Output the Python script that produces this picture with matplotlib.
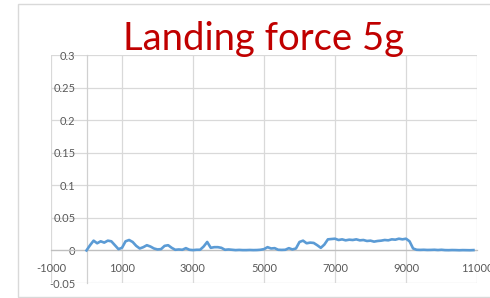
import matplotlib
matplotlib.use("Agg")
import matplotlib.pyplot as plt
from matplotlib.patches import Rectangle
import numpy as np

# ---- data ----
x_vals = list(range(0, 11000, 100))
y_milli = [
    0, 8, 15, 11, 14, 12, 15, 14, 8, 2,
    4, 14, 16, 13, 7, 3, 5, 8, 6, 3,
    1.5, 2, 7, 8, 4, 1, 1.5, 1, 3.5, 1,
    0.5, 1, 1, 6, 13, 4, 5, 5, 4, 1,
    1.5, 1, 0.5, 0.8, 0.5, 0.5, 0.7, 0.5, 0.6, 1,
    2, 5, 3, 3.5, 1, 0.8, 1, 3.5, 1.5, 3,
    13, 15, 11, 12, 11.5, 8, 4, 9, 17, 17.5,
    18, 16, 17, 15.5, 16.5, 16, 17, 15.5, 16, 14.5,
    15, 13.5, 14.5, 15, 16, 15.5, 17, 16.5, 18, 17,
    18, 14, 3, 1, 0.8, 1, 0.7, 0.8, 1, 0.6,
    1, 0.5, 0.4, 0.6, 0.5, 0.3, 0.5, 0.4, 0.3, 0.5,
]
y_vals = [v / 1000.0 for v in y_milli]

x_ticks = [-1000, 1000, 3000, 5000, 7000, 9000, 11000]
x_labels = ["-1000", "1000", "3000", "5000", "7000", "9000", "11000"]
y_ticks = [-0.05, 0, 0.05, 0.1, 0.15, 0.2, 0.25, 0.3]
y_labels = ["-0.05", "0", "0.05", "0.1", "0.15", "0.2", "0.25", "0.3"]
title = "Landing force 5g"

# ---- styling ----
W, H, DPI = 490, 298, 100
fig = plt.figure(figsize=(W / DPI, H / DPI), dpi=DPI)
fig.patch.set_facecolor("white")

L, R, T, B = 51, 477, 55, 283
ax = fig.add_axes([L / W, 1 - B / H, (R - L) / W, (B - T) / H])
ax.set_xlim(-1000, 11000)
ax.set_ylim(-0.05, 0.3)

grid_c = "#D9D9D9"
for xv in x_ticks:
    ax.axvline(xv, color=grid_c, lw=0.9, zorder=0)
for yv in y_ticks:
    ax.axhline(yv, color=grid_c, lw=0.9, zorder=0)

for s in ["top", "right"]:
    ax.spines[s].set_visible(False)
ax.spines["left"].set_position(("data", 0))
ax.spines["bottom"].set_position(("data", 0))
ax.spines["left"].set_color("#D0D0D0")
ax.spines["bottom"].set_color("#BFBFBF")
ax.spines["left"].set_linewidth(0.9)
ax.spines["bottom"].set_linewidth(0.9)

font = "Lato"
lab_c = "#595959"
ax.set_xticks(x_ticks)
ax.set_xticklabels(x_labels, fontsize=8, color=lab_c, family=font)
ax.set_yticks(y_ticks)
ax.set_yticklabels(y_labels, fontsize=8, color=lab_c, family=font)
ax.tick_params(axis="both", length=0)
ax.tick_params(axis="y", pad=8)
ax.tick_params(axis="x", pad=9)

ax.plot(x_vals, y_vals, color="#5B9BD5", lw=1.9, solid_joinstyle="round", zorder=3, clip_on=False)

# chart border
fig.patches.append(Rectangle((18 / W, 1 - 297 / H), 1.2, (297 - 4) / H,
                             transform=fig.transFigure, fill=False,
                             edgecolor="#D9D9D9", lw=1.0))

t = fig.text((L + R) / 2 / W, 1 - 50 / H, title, ha="center", va="baseline",
             color="#C00000", family=font, fontsize=27)
fig.canvas.draw()
bb = t.get_window_extent()
target = 282.0
t.set_fontsize(27 * target / bb.width)

fig.savefig("out.png", dpi=DPI, facecolor="white")
